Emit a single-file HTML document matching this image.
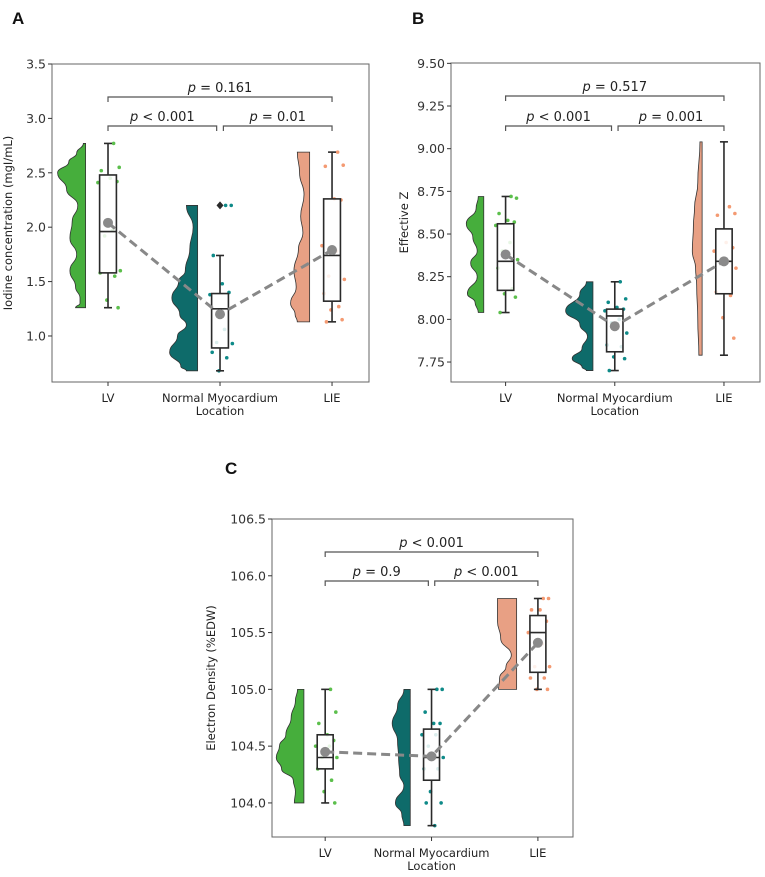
<!DOCTYPE html>
<html><head><meta charset="utf-8"><style>
body{margin:0;background:#fff;}
svg{display:block;font-family:"DejaVu Sans","Liberation Sans",sans-serif;}
</style></head><body>
<svg id="fig" width="765" height="877" viewBox="0 0 765 877" xmlns="http://www.w3.org/2000/svg"></svg>
<script>
const categories = ["LV", "Normal Myocardium", "LIE"];
// Panel A
const aWhiskLo=[1.26,0.68,1.13], aQ1=[1.58,0.89,1.32], aMed=[1.96,1.25,1.74], aQ3=[2.48,1.39,2.26], aWhiskHi=[2.77,1.74,2.69], aMean=[2.04,1.20,1.79];
const aOutliers=[[],[2.2],[]];
const aPoints=[[2.77,2.55,2.52,2.45,2.42,2.41,1.97,1.92,1.60,1.58,1.55,1.33,1.26],[2.2,2.2,1.74,1.48,1.40,1.38,1.06,0.94,0.93,0.85,0.80,0.68],[2.69,2.57,2.56,2.26,2.25,1.83,1.78,1.55,1.52,1.39,1.27,1.24,1.15,1.13]];
const aViolinY=[[2.77,2.68,2.6,2.5,2.35,2.2,2.05,1.9,1.75,1.6,1.45,1.35,1.3,1.26],[2.2,2.0,1.8,1.6,1.5,1.35,1.2,1.1,1.0,0.85,0.72,0.68],[2.69,2.5,2.3,2.1,1.95,1.8,1.6,1.45,1.3,1.2,1.13]];
const aViolinW=[[0.02,0.08,0.15,0.25,0.17,0.07,0.12,0.14,0.08,0.14,0.09,0.05,0.05,0.09],[0.1,0.04,0.07,0.11,0.17,0.23,0.16,0.1,0.18,0.25,0.15,0.1],[0.11,0.09,0.05,0.08,0.06,0.1,0.14,0.12,0.17,0.13,0.11]];
const aP=["p = 0.161","p < 0.001","p = 0.01"];
// Panel B
const bWhiskLo=[8.04,7.70,7.79], bQ1=[8.17,7.81,8.15], bMed=[8.34,8.02,8.34], bQ3=[8.56,8.06,8.53], bWhiskHi=[8.72,8.22,9.04], bMean=[8.38,7.96,8.34];
const bOutliers=[[],[],[]];
const bPoints=[[8.72,8.71,8.62,8.58,8.57,8.55,8.45,8.40,8.35,8.30,8.18,8.15,8.13,8.04],[8.22,8.12,8.10,8.07,8.06,8.05,8.00,7.98,7.92,7.85,7.84,7.78,7.77,7.70],[8.66,8.62,8.61,8.45,8.42,8.40,8.34,8.33,8.30,8.16,8.14,8.01,7.89]];
const bViolinY=[[8.72,8.65,8.56,8.48,8.4,8.33,8.25,8.15,8.1,8.04],[8.22,8.15,8.05,7.97,7.9,7.83,7.77,7.72,7.70],[9.04,8.8,8.65,8.55,8.4,8.3,8.2,8.0,7.79]];
const bViolinW=[[0.05,0.07,0.16,0.1,0.06,0.12,0.06,0.15,0.08,0.05],[0.06,0.12,0.25,0.12,0.05,0.1,0.19,0.1,0.06],[0.02,0.04,0.07,0.08,0.09,0.06,0.05,0.04,0.03]];
const bP=["p = 0.517","p < 0.001","p = 0.001"];
// Panel C
const cWhiskLo=[104.0,103.8,105.0], cQ1=[104.3,104.2,105.15], cMed=[104.4,104.4,105.5], cQ3=[104.6,104.65,105.65], cWhiskHi=[105.0,105.0,105.8], cMean=[104.45,104.41,105.41];
const cOutliers=[[],[],[]];
const cPoints=[[105.0,104.8,104.7,104.6,104.55,104.5,104.5,104.4,104.4,104.3,104.2,104.1,104.0],[105.0,105.0,104.8,104.7,104.7,104.6,104.6,104.5,104.4,104.3,104.3,104.1,104.0,104.0,103.8],[105.8,105.8,105.7,105.7,105.6,105.5,105.4,105.2,105.2,105.1,105.1,105.0,105.0]];
const cViolinY=[[105.0,104.9,104.75,104.6,104.5,104.4,104.3,104.2,104.1,104.0],[105.0,104.85,104.7,104.55,104.4,104.25,104.15,104.0,103.9,103.8],[105.8,105.6,105.45,105.3,105.2,105.1,105.0]];
const cViolinW=[[0.06,0.08,0.12,0.17,0.23,0.26,0.21,0.1,0.08,0.09],[0.06,0.12,0.17,0.12,0.11,0.1,0.06,0.14,0.08,0.06],[0.18,0.18,0.15,0.05,0.1,0.16,0.17]];
const cP=["p < 0.001","p = 0.9","p < 0.001"];

const NS="http://www.w3.org/2000/svg";
const svg=document.getElementById('fig');
const violinFill=["#46ae3c","#0e6b6a","#e8a084"];
const dotFill=["#5cbf4c","#0e8a88","#f49a72"];
const jitter=[0.05,0.1,-0.06,0.02,0.08,-0.09,0.04,-0.03,0.11,-0.07,0.06,-0.01,0.09,-0.05,0.03];
function el(tag,attrs,parent,text){const e=document.createElementNS(NS,tag);for(const k in attrs)e.setAttribute(k,attrs[k]);if(text!==undefined)e.textContent=text;(parent||svg).appendChild(e);return e;}

function panel(o){
  const g=el('g',{});
  
  
  const X=v=>o.x0+(v+0.5)/2.83*(o.x1-o.x0);
  const Y=v=>o.y1-(v-o.ymin)/(o.ymax-o.ymin)*(o.y1-o.y0);
  const sp=(o.x1-o.x0)/2.83;
  const lt=el('text',{x:o.lx,y:o.ly,'font-size':17,'font-weight':'bold',fill:'#111','font-family':'Liberation Sans, sans-serif'},g,o.letter);
  
  
  const fr=el('rect',{x:o.x0,y:o.y0,width:o.x1-o.x0,height:o.y1-o.y0,fill:'none',stroke:'#666','stroke-width':1},g);
  
  
  o.ticks.forEach((t,i)=>{const y=Y(t);
    el('line',{x1:o.x0-4,x2:o.x0,y1:y,y2:y,stroke:'#333'},g);
    const tx=el('text',{x:o.x0-6,y:y+4.5,'font-size':12.5,'text-anchor':'end',fill:'#333'},g,o.tickLabels[i]);
    
    });
  const yt=el('text',{x:0,y:0,'font-size':11.5,'text-anchor':'middle',fill:'#222',transform:`translate(${o.ytx},${(o.y0+o.y1)/2}) rotate(-90)`},g,o.ytitle);
  
  
  categories.forEach((c,i)=>{const x=X(i);
    el('line',{x1:x,x2:x,y1:o.y1,y2:o.y1+4,stroke:'#333'},g);
    const tx=el('text',{x:x,y:o.y1+20,'font-size':11.5,'text-anchor':'middle',fill:'#222'},g,c);
    
    });
  const xt=el('text',{x:X(1),y:o.y1+33,'font-size':11.5,'text-anchor':'middle',fill:'#222'},g,'Location');
  
  
  categories.forEach((c,i)=>{
    const fx=X(i-0.2);const ys=o.vy[i],ws=o.vw[i];
    const pts=ys.map((v,k)=>[fx-ws[k]*sp,Y(v)]);
    let d=`M${fx},${Y(ys[0])} L${pts[0][0]},${pts[0][1]}`;
    for(let k=1;k<pts.length;k++){const p0=pts[k-1],p1=pts[k];const my=(p0[1]+p1[1])/2;d+=` C${p0[0]},${my} ${p1[0]},${my} ${p1[0]},${p1[1]}`;}
    d+=` L${fx},${Y(ys[ys.length-1])} Z`;
    const v=el('path',{d:d,fill:violinFill[i],stroke:'#333','stroke-width':0.8},g);
    
    
  });
  categories.forEach((c,i)=>{o.pts[i].forEach((v,k)=>{
    const p=el('circle',{cx:X(i+jitter[k%jitter.length]),cy:Y(v),r:1.8,fill:dotFill[i]},g);
    
    });});
  const bw=0.075*sp;
  categories.forEach((c,i)=>{const x=X(i);
    const bg=el('g',{stroke:'#2a2a2a','stroke-width':1.6,fill:'none'},g);
    
    
    el('line',{x1:x,x2:x,y1:Y(o.wl[i]),y2:Y(o.q1[i])},bg);
    el('line',{x1:x,x2:x,y1:Y(o.q3[i]),y2:Y(o.wh[i])},bg);
    el('line',{x1:x-4,x2:x+4,y1:Y(o.wl[i]),y2:Y(o.wl[i])},bg);
    el('line',{x1:x-4,x2:x+4,y1:Y(o.wh[i]),y2:Y(o.wh[i])},bg);
    el('rect',{x:x-bw,y:Y(o.q3[i]),width:2*bw,height:Y(o.q1[i])-Y(o.q3[i]),fill:'rgba(255,255,255,0.85)'},bg);
    el('line',{x1:x-bw,x2:x+bw,y1:Y(o.med[i]),y2:Y(o.med[i])},bg);
    o.out[i].forEach(v=>{const y=Y(v);el('path',{d:`M${x},${y-4} L${x+3.5},${y} L${x},${y+4} L${x-3.5},${y} Z`,fill:'#2a2a2a',stroke:'none'},bg);});
  });
  const md=o.mean.map((v,i)=>(i?'L':'M')+X(i)+','+Y(v)).join(' ');
  const ml=el('path',{d:md,fill:'none',stroke:'#888','stroke-width':3,'stroke-dasharray':'9,5'},g);
  
  
  o.mean.forEach((v,i)=>{const m=el('circle',{cx:X(i),cy:Y(v),r:5,fill:'#8a8a8a'},g);
    
    });
  const br=[[0,2,o.bTop],[0,0.97,o.bLow],[1.03,2,o.bLow]];
  br.forEach((b,k)=>{const xa=X(b[0]),xb=X(b[1]),y=b[2];
    const p=el('path',{d:`M${xa},${y+5} L${xa},${y} L${xb},${y} L${xb},${y+5}`,fill:'none',stroke:'#555','stroke-width':1.2},g);
    
    
    const parts=o.p[k].split(' ');
    const t=el('text',{x:(xa+xb)/2,y:y-5,'font-size':13,'text-anchor':'middle',fill:'#222'},g);
    
    
    el('tspan',{'font-style':'italic'},t,parts[0]);
    el('tspan',{},t,' '+parts.slice(1).join(' '));
  });
}
panel({name:'panel-a-iodine',letter:'A',lx:12,ly:24,x0:52,x1:369,y0:64,y1:382,ymin:0.577,ymax:3.5,
  ticks:[1.0,1.5,2.0,2.5,3.0,3.5],tickLabels:['1.0','1.5','2.0','2.5','3.0','3.5'],ytitle:'Iodine concentration (mgI/mL)',ytx:12,
  wl:aWhiskLo,q1:aQ1,med:aMed,q3:aQ3,wh:aWhiskHi,mean:aMean,out:aOutliers,pts:aPoints,vy:aViolinY,vw:aViolinW,p:aP,bTop:97,bLow:126});
panel({name:'panel-b-effective-z',letter:'B',lx:412,ly:24,x0:451,x1:760,y0:63,y1:382,ymin:7.633,ymax:9.502,
  ticks:[7.75,8.0,8.25,8.5,8.75,9.0,9.25,9.5],tickLabels:['7.75','8.00','8.25','8.50','8.75','9.00','9.25','9.50'],ytitle:'Effective Z',ytx:408,
  wl:bWhiskLo,q1:bQ1,med:bMed,q3:bQ3,wh:bWhiskHi,mean:bMean,out:bOutliers,pts:bPoints,vy:bViolinY,vw:bViolinW,p:bP,bTop:96,bLow:126});
panel({name:'panel-c-electron-density',letter:'C',lx:225,ly:474,x0:272,x1:573,y0:519,y1:837,ymin:103.70,ymax:106.5,
  ticks:[104.0,104.5,105.0,105.5,106.0,106.5],tickLabels:['104.0','104.5','105.0','105.5','106.0','106.5'],ytitle:'Electron Density (%EDW)',ytx:215,
  wl:cWhiskLo,q1:cQ1,med:cMed,q3:cQ3,wh:cWhiskHi,mean:cMean,out:cOutliers,pts:cPoints,vy:cViolinY,vw:cViolinW,p:cP,bTop:552,bLow:581});
</script>
</body></html>
